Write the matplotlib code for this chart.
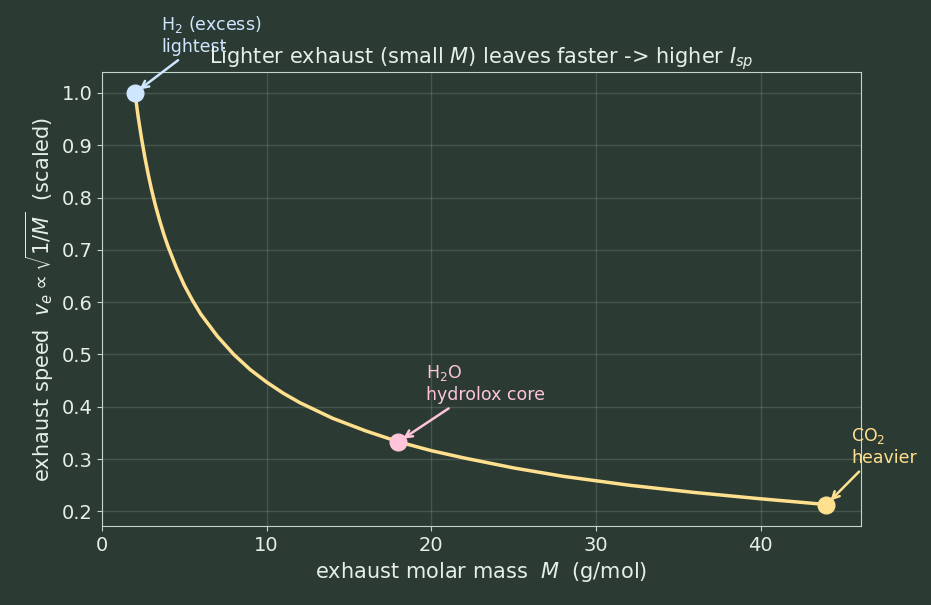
import matplotlib
matplotlib.use("Agg")
import matplotlib.pyplot as plt

# molar mass (g/mol) vs scaled exhaust speed
molar_mass = [2, 2.2, 2.4, 2.6, 2.8, 3.0, 3.25, 3.5, 3.75, 4, 4.5, 5, 5.5, 6, 7, 8, 9, 10,
              11, 12, 14, 16, 18, 20, 22, 25, 28, 32, 36, 40, 44]
speed = [1.000, 0.953, 0.913, 0.877, 0.845, 0.816, 0.784, 0.756, 0.730, 0.707, 0.667,
         0.632, 0.603, 0.577, 0.535, 0.500, 0.471, 0.447, 0.426, 0.408, 0.378, 0.354,
         0.333, 0.316, 0.302, 0.283, 0.267, 0.250, 0.236, 0.224, 0.213]

species_m = [2, 18, 44]
species_v = [1.000, 0.333, 0.213]
species_lbl = ["H$_2$ (excess)\nlightest", "H$_2$O\nhydrolox core", "CO$_2$\nheavier"]
species_col = ["#cfe6ff", "#ffc4da", "#ffe08e"]
label_pos = [(3.6, 1.071), (19.7, 0.405), (45.5, 0.285)]

bg = "#2b3b33"
fg = "#e6eee8"
edge = "#c4d6ca"

fig = plt.figure(figsize=(9.31, 6.05), dpi=100, facecolor=bg)
ax = fig.add_axes([0.1096, 0.1306, 0.8152, 0.7504], facecolor=bg)

ax.plot(molar_mass, speed, color="#ffe08e", lw=2.5, zorder=2)
for m, v, lbl, c, pos in zip(species_m, species_v, species_lbl, species_col, label_pos):
    ax.plot(m, v, "o", color=c, ms=12, zorder=3)
    ax.annotate(lbl, xy=(m, v), xytext=pos, color=c, fontsize=12.5,
                ha="left", va="bottom", annotation_clip=False,
                arrowprops=dict(arrowstyle="->", color=c, lw=1.8, shrinkA=2, shrinkB=4))

ax.set_xlim(0, 46.1)
ax.set_ylim(0.172, 1.04)
ax.grid(True, color="#c4d6ca", alpha=0.18, lw=1)
for s in ax.spines.values():
    s.set_color(edge)
ax.tick_params(colors=edge, labelcolor=fg, labelsize=14)
ax.set_xlabel("exhaust molar mass  $M$  (g/mol)", color=fg, fontsize=15)
ax.set_ylabel(r"exhaust speed  $v_e \propto \sqrt{1/M}$  (scaled)", color=fg, fontsize=15)
ax.set_title("Lighter exhaust (small $M$) leaves faster -> higher $I_{sp}$", color=fg, fontsize=15)

fig.savefig("out.png", dpi=100, facecolor=bg)
